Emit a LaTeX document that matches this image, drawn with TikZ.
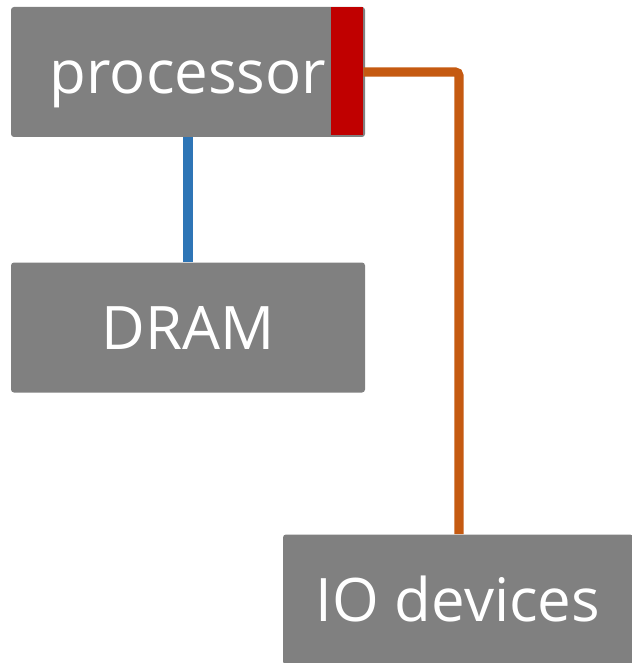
\documentclass[tikz,border=0pt]{standalone}
\usepackage{fontspec}
\setmainfont{Open Sans}
\usepackage{tikz}
\definecolor{boxgray}{RGB}{128,128,128}
\definecolor{portred}{RGB}{192,0,0}
\definecolor{busblue}{RGB}{46,117,182}
\definecolor{busorange}{RGB}{197,90,17}
\begin{document}
\begin{tikzpicture}[x=0.75pt,y=-0.75pt]
            \tikzstyle{unit}=[fill=boxgray, rounded corners=2.25pt, text=white, inner sep=0pt, minimum width=265.5pt, minimum height=97.5pt, text height=33pt, text depth=0pt, font=\fontsize{45}{45}\selectfont]
            \tikzstyle{bus}=[line width=7pt]
            \useasboundingbox (0,0) rectangle (631,663);
            \node[unit] (processor) at (188,72) {processor};
            \node[unit] (dram) at (188,327.5) {DRAM};
            \node[unit, minimum width=262.5pt] (io) at (458,599.5) {IO devices};
            \node[fill=portred, inner sep=0pt, minimum width=24pt, minimum height=96pt, anchor=north east] (port) at ([xshift=-1.5pt]processor.north east) {};
            \coordinate (bend) at (459,72);
            \draw[bus, busblue] (processor) -- (dram);
            \draw[bus, busorange, rounded corners=3pt] (port.east |- bend) -- (bend) -- (bend |- io.north);
        \end{tikzpicture}
\end{document}
